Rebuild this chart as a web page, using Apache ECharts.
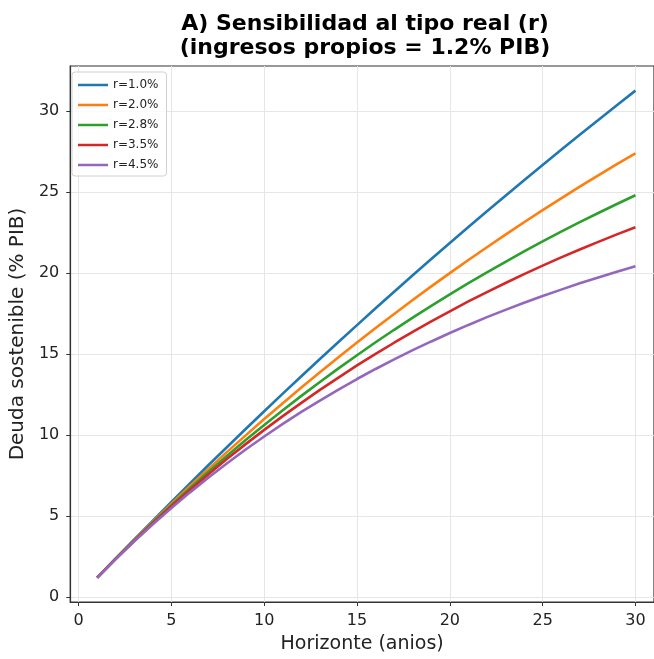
<!DOCTYPE html>
<html>
<head>
<meta charset="utf-8">
<script src="https://cdn.jsdelivr.net/npm/echarts@6/dist/echarts.min.js"></script>
<style>
  html, body { margin: 0; padding: 0; background: #fff; }
  #chart { width: 654px; height: 659px; }
</style>
</head>
<body>
<div id="chart"></div>
<script>
// horizonte en años (eje x)
const years = [1, 2, 3, 4, 5, 6, 7, 8, 9, 10, 11, 12, 13, 14, 15, 16, 17, 18, 19, 20, 21, 22, 23, 24, 25, 26, 27, 28, 29, 30];

// deuda sostenible (% PIB) para cada tipo real
const deudaR10 = [1.20, 2.39, 3.57, 4.73, 5.88, 7.02, 8.16, 9.27, 10.38, 11.48, 12.57, 13.64, 14.71, 15.76, 16.80, 17.84, 18.86, 19.88, 20.88, 21.87, 22.86, 23.83, 24.79, 25.75, 26.69, 27.63, 28.55, 29.47, 30.38, 31.28];
const deudaR20 = [1.20, 2.38, 3.53, 4.66, 5.77, 6.86, 7.92, 8.97, 9.99, 11.00, 11.98, 12.94, 13.89, 14.82, 15.73, 16.62, 17.49, 18.35, 19.19, 20.01, 20.82, 21.61, 22.39, 23.15, 23.90, 24.63, 25.35, 26.05, 26.74, 27.41];
const deudaR28 = [1.20, 2.37, 3.50, 4.61, 5.68, 6.73, 7.74, 8.73, 9.70, 10.63, 11.54, 12.43, 13.29, 14.13, 14.94, 15.74, 16.51, 17.26, 17.99, 18.70, 19.39, 20.06, 20.71, 21.35, 21.97, 22.57, 23.16, 23.72, 24.28, 24.82];
const deudaR35 = [1.20, 2.36, 3.48, 4.56, 5.61, 6.62, 7.59, 8.54, 9.45, 10.33, 11.18, 12.00, 12.80, 13.56, 14.31, 15.02, 15.71, 16.38, 17.03, 17.65, 18.26, 18.84, 19.40, 19.95, 20.47, 20.98, 21.47, 21.94, 22.40, 22.84];
const deudaR45 = [1.20, 2.35, 3.45, 4.50, 5.51, 6.47, 7.39, 8.27, 9.12, 9.92, 10.70, 11.44, 12.14, 12.82, 13.47, 14.09, 14.68, 15.25, 15.79, 16.31, 16.81, 17.29, 17.74, 18.18, 18.60, 18.99, 19.38, 19.74, 20.09, 20.43];

const seriesNames = ['r=1.0%', 'r=2.0%', 'r=2.8%', 'r=3.5%', 'r=4.5%'];
const seriesData = [deudaR10, deudaR20, deudaR28, deudaR35, deudaR45];
const colors = ['#1f77b4', '#ff7f0e', '#2ca02c', '#d62728', '#9467bd'];

const xTicks = [0, 5, 10, 15, 20, 25, 30];
const yTicks = [0, 5, 10, 15, 20, 25, 30];

const font = 'DejaVu Sans';

// icono de leyenda: barra fina centrada (los M fijan la caja 30x14)
const lineIcon = 'path://M0,0 M30,14 M0,5.75 L30,5.75 L30,8.25 L0,8.25 Z';

let myChart = echarts.init(document.getElementById('chart'));

let option = {
  animation: false,
  color: colors,
  title: {
    text: 'A) Sensibilidad al tipo real (r)\n(ingresos propios = 1.2% PIB)',
    left: 360,
    top: 7,
    textAlign: 'center',
    textStyle: {
      fontFamily: font,
      fontSize: 22,
      fontWeight: 'bold',
      color: '#000',
      lineHeight: 24
    }
  },
  legend: {
    data: seriesNames.map(n => ({ name: n, icon: lineIcon })),
    orient: 'vertical',
    left: 72,
    top: 72,
    padding: [6, 8, 4, 6],
    itemWidth: 30,
    itemHeight: 14,
    itemGap: 6,
    borderColor: '#d0d0d0',
    borderWidth: 1,
    borderRadius: 3,
    backgroundColor: 'rgba(255,255,255,0.8)',
    textStyle: { fontFamily: font, fontSize: 12, color: '#222' }
  },
  grid: {
    left: 69,
    right: 0,
    top: 66,
    bottom: 51,
    show: true,
    borderColor: '#333',
    borderWidth: 1.2,
    backgroundColor: '#fff'
  },
  xAxis: {
    type: 'value',
    min: -0.45,
    max: 31,
    name: 'Horizonte (anios)',
    nameLocation: 'middle',
    nameGap: 33,
    nameTextStyle: { fontFamily: font, fontSize: 19, color: '#222' },
    axisLine: { show: true, onZero: false, lineStyle: { color: '#333', width: 1.2 } },
    axisTick: { show: true, inside: false, length: 4, customValues: xTicks, lineStyle: { color: '#333' } },
    axisLabel: { customValues: xTicks, fontFamily: font, fontSize: 16, color: '#222', margin: 11 },
    splitLine: { show: true, lineStyle: { color: '#e6e6e6', width: 1 } }
  },
  yAxis: {
    type: 'value',
    min: -0.3,
    max: 32.8,
    name: 'Deuda sostenible (% PIB)',
    nameLocation: 'middle',
    nameGap: 32,
    nameTextStyle: { fontFamily: font, fontSize: 20, color: '#222' },
    axisLine: { show: true, onZero: false, lineStyle: { color: '#333', width: 1.2 } },
    axisTick: { show: true, inside: false, length: 4, customValues: yTicks, lineStyle: { color: '#333' } },
    axisLabel: { customValues: yTicks, fontFamily: font, fontSize: 16, color: '#222', margin: 11 },
    splitLine: { show: true, lineStyle: { color: '#e6e6e6', width: 1 } }
  },
  series: seriesNames.map((name, k) => ({
    name: name,
    type: 'line',
    symbol: 'none',
    smooth: false,
    lineStyle: { width: 2.6, color: colors[k] },
    data: years.map((x, i) => [x, seriesData[k][i]])
  }))
};

myChart.setOption(option);
</script>
</body>
</html>
